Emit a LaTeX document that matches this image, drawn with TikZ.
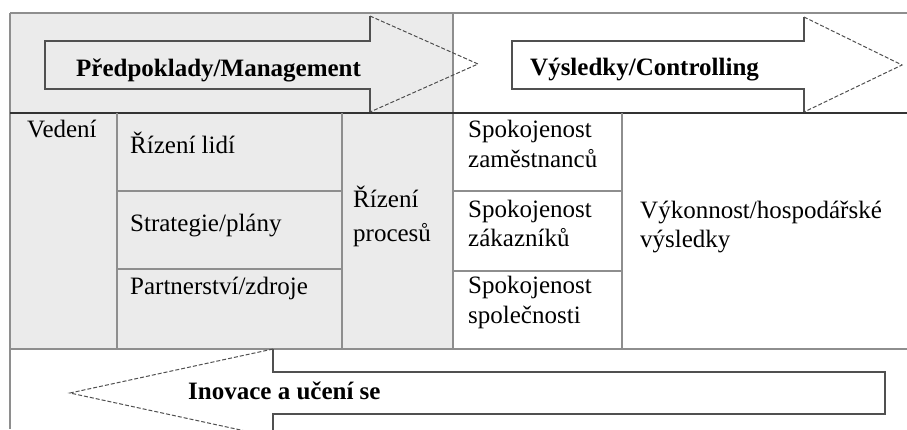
\documentclass[tikz,border=0pt]{standalone}
\usepackage{fontspec}
\setmainfont{Liberation Serif}
\definecolor{cellgray}{HTML}{EBEBEB}
\definecolor{rulegray}{HTML}{8E8E8E}
\definecolor{outline}{HTML}{505050}
\tikzset{
  gridline/.style={draw=rulegray, line width=1.4pt},
  darkline/.style={draw=black!80, line width=1.4pt},
  arrowbody/.style={draw=outline, line width=1.4pt},
  arrowhead/.style={draw=outline, line width=1pt, dash pattern=on 4pt off 2pt},
  txt/.style={anchor=base west, inner sep=0pt, font=\fontsize{25}{29}\selectfont},
  lbl/.style={anchor=base west, inner sep=0pt, font=\fontsize{25}{29}\selectfont\bfseries}
}
\begin{document}
\begin{tikzpicture}[x=1pt, y=-1pt]
\useasboundingbox (0,0) rectangle (907,429);
\clip (0,0) rectangle (907,429);

% shaded "enablers" half: top band and middle block
\fill[cellgray] (10,13) rectangle (453,349);

% frame and grid
\draw[gridline] (10,13) -- (907,13);
\draw[gridline] (10,13) -- (10,429);
\draw[gridline] (453,13) -- (453,349);
\draw[darkline] (10,113) -- (907,113);
\draw[gridline] (10,349) -- (907,349);
\draw[gridline] (117,113) -- (117,349);
\draw[gridline] (342,113) -- (342,349);
\draw[gridline] (622,113) -- (622,349);
\draw[gridline] (117,191) -- (342,191);
\draw[gridline] (117,269) -- (342,269);
\draw[gridline] (453,191) -- (622,191);
\draw[gridline] (453,271) -- (622,271);

% block arrow: enablers
\draw[arrowbody] (370,16) -- (370,41) -- (45,41) -- (45,89) -- (370,89) -- (370,112);
\draw[arrowhead] (370,16) -- (478,64) -- (370,112);

% block arrow: results
\draw[arrowbody] (804,17) -- (804,41) -- (512,41) -- (512,89) -- (804,89) -- (804,112);
\draw[arrowhead] (804,17) -- (902,65) -- (804,112);

% block arrow: innovation and learning (pointing back)
\draw[arrowbody] (273,349) -- (273,372) -- (885,372) -- (885,414) -- (273,414) -- (273,437);
\draw[arrowhead] (273,349) -- (70,393) -- (273,437);

% arrow labels
\node[lbl] (pred) at (76,76) {Předpoklady/Management};
\node[lbl] (vysl) at (530,75) {Výsledky/Controlling};
\node[lbl] (inov) at (188,399) {Inovace a učení se};

% cell texts
\node[txt] (ved) at (27,137) {Vedení};
\node[txt] (lidi) at (130,153) {Řízení lidí};
\node[txt] (strat) at (130,231) {Strategie/plány};
\node[txt] (partn) at (130,294) {Partnerství/zdroje};
\node[txt] (proc1) at (353,207) {Řízení};
\node[txt] (proc2) at (353,241) {procesů};
\node[txt] (zam1) at (468,137) {Spokojenost};
\node[txt] (zam2) at (468,167) {zaměstnanců};
\node[txt] (zak1) at (468,217) {Spokojenost};
\node[txt] (zak2) at (468,246) {zákazníků};
\node[txt] (spol1) at (468,293) {Spokojenost};
\node[txt] (spol2) at (468,323) {společnosti};
\node[txt] (vyk1) at (640,218) {Výkonnost/hospodářské};
\node[txt] (vyk2) at (640,247) {výsledky};
\end{tikzpicture}
\end{document}
